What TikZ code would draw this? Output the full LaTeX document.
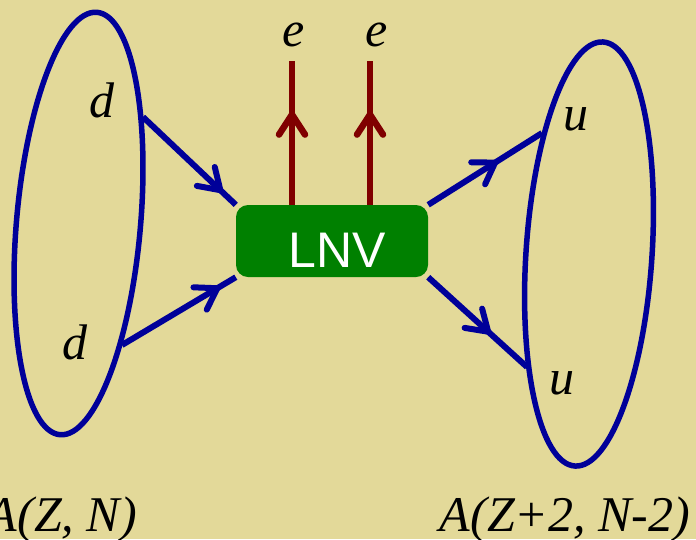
\documentclass[tikz,border=0pt]{standalone}
\usepackage{fontspec}
\setmainfont{Liberation Serif}
\newfontfamily\lnvfont{Liberation Sans}
\usetikzlibrary{arrows.meta,decorations.markings}
\definecolor{bgtan}{RGB}{227,217,153}
\definecolor{navy}{RGB}{0,0,153}
\definecolor{darkred}{RGB}{128,0,0}
\definecolor{darkgreen}{RGB}{0,128,0}
\pgfdeclarelayer{back}
\pgfdeclarelayer{mid}
\pgfsetlayers{back,mid,main}
\tikzset{
  barbtip/.tip={Straight Barb[length=20pt,width=26pt,round]},
  midarrow/.style={decoration={markings, mark=at position #1 with {\arrow{barbtip}}}, postaction={decorate}},
  quark/.style={draw=navy, line width=6pt},
  lepton/.style={draw=darkred, line width=6.5pt},
  nucleus/.style={draw=navy, line width=5.5pt},
  lbl/.style={font=\fontsize{50}{60}\selectfont\itshape, inner sep=0pt, anchor=base},
  lnvbox/.style={fill=darkgreen, rounded corners=12pt, minimum width=192pt, minimum height=72pt, inner sep=0pt}
}
\begin{document}
\begin{tikzpicture}[x=1pt,y=-1pt]
\useasboundingbox (0,0) rectangle (696,539);
\begin{pgfonlayer}{back}
\fill[bgtan] (0,0) rectangle (696,539);
\end{pgfonlayer}
% box
\node[lnvbox] (box) at (332,241) {};
\node[inner sep=0pt, anchor=base, text=white, font=\fontsize{50}{60}\selectfont\lnvfont] (lnv) at (337,267) {LNV};
% nuclei
\draw[nucleus] (78.5,223.5) ellipse [x radius=62, y radius=212, rotate=-5];
\draw[nucleus] (589,254) ellipse [x radius=63, y radius=212.5, rotate=-3.8];
% end points
\coordinate (d1) at (143,117);
\coordinate (d2) at (122,345);
\coordinate (u1) at (542,133);
\coordinate (u2) at (527,367);
\coordinate (e1) at (292,61);
\coordinate (e2) at (370,61);
\begin{pgfonlayer}{mid}
\draw[quark, midarrow=0.86] (d1) -- (box.north west);
\draw[quark, midarrow=0.86] (d2) -- (box.south west);
\draw[quark, midarrow=0.61] (box.north east) -- (u1);
\draw[quark, midarrow=0.63] (box.south east) -- (u2);
\draw[lepton, midarrow=0.65] (box.north -| e1) -- (e1);
\draw[lepton, midarrow=0.65] (box.north -| e2) -- (e2);
\end{pgfonlayer}
% labels
\node[lbl] (le1) at (294,46) {e};
\node[lbl] (le2) at (377,46) {e};
\node[lbl] (ld1) at (102,117) {d};
\node[lbl] (ld2) at (75,359) {d};
\node[lbl] (lu1) at (576,130) {u};
\node[lbl] (lu2) at (562,394) {u};
\node[lbl] (nA) at (62,531) {A(Z, N)};
\node[lbl] (nB) at (565,531) {A(Z+2, N-2)};
\end{tikzpicture}
\end{document}
